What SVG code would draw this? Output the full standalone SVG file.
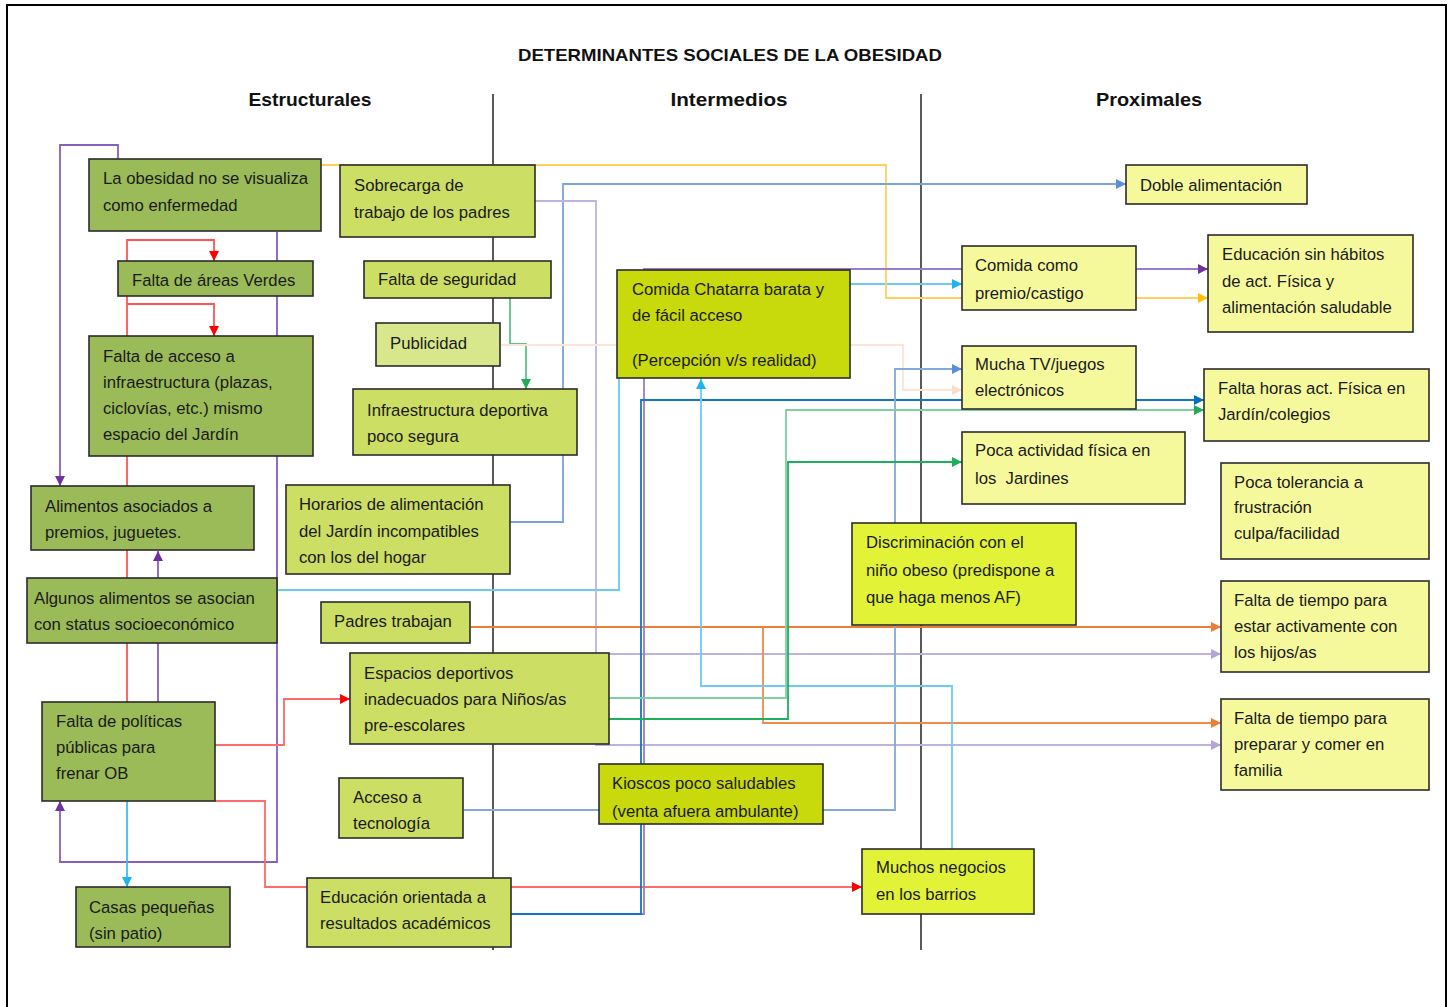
<svg xmlns="http://www.w3.org/2000/svg" width="1452" height="1007" viewBox="0 0 1452 1007">
<style>
.t{font-family:"Liberation Sans",Arial,sans-serif;font-size:16.7px;fill:#1a1a1a}
.h{font-family:"Liberation Sans",Arial,sans-serif;font-weight:bold;fill:#111}
.n rect{stroke:#2b2b2b;stroke-width:1.6}
.dg{fill:#9BBB59}
.lg{fill:#CCDE63}
.pb{fill:#D8E78C}
.yg{fill:#C8D90C}
.by{fill:#E2F337}
.py{fill:#F5F99C}
.c{fill:none;stroke-width:1.8}
</style>
<defs>
<marker id="mPu" markerUnits="userSpaceOnUse" markerWidth="11" markerHeight="11" refX="10" refY="5" orient="auto"><path d="M0,0 L10,5 L0,10 z" fill="#7030A0"/></marker>
<marker id="mRe" markerUnits="userSpaceOnUse" markerWidth="11" markerHeight="11" refX="10" refY="5" orient="auto"><path d="M0,0 L10,5 L0,10 z" fill="#FF0000"/></marker>
<marker id="mCy" markerUnits="userSpaceOnUse" markerWidth="11" markerHeight="11" refX="10" refY="5" orient="auto"><path d="M0,0 L10,5 L0,10 z" fill="#1EB4F0"/></marker>
<marker id="mYe" markerUnits="userSpaceOnUse" markerWidth="11" markerHeight="11" refX="10" refY="5" orient="auto"><path d="M0,0 L10,5 L0,10 z" fill="#FFC000"/></marker>
<marker id="mBl" markerUnits="userSpaceOnUse" markerWidth="11" markerHeight="11" refX="10" refY="5" orient="auto"><path d="M0,0 L10,5 L0,10 z" fill="#5A8ED6"/></marker>
<marker id="mLa" markerUnits="userSpaceOnUse" markerWidth="11" markerHeight="11" refX="10" refY="5" orient="auto"><path d="M0,0 L10,5 L0,10 z" fill="#B4A4D8"/></marker>
<marker id="mOr" markerUnits="userSpaceOnUse" markerWidth="11" markerHeight="11" refX="10" refY="5" orient="auto"><path d="M0,0 L10,5 L0,10 z" fill="#ED7D31"/></marker>
<marker id="mGr" markerUnits="userSpaceOnUse" markerWidth="11" markerHeight="11" refX="10" refY="5" orient="auto"><path d="M0,0 L10,5 L0,10 z" fill="#1FAD5A"/></marker>
<marker id="mPe" markerUnits="userSpaceOnUse" markerWidth="11" markerHeight="11" refX="10" refY="5" orient="auto"><path d="M0,0 L10,5 L0,10 z" fill="#FBDCCB"/></marker>
<marker id="mDb" markerUnits="userSpaceOnUse" markerWidth="11" markerHeight="11" refX="10" refY="5" orient="auto"><path d="M0,0 L10,5 L0,10 z" fill="#0070C0"/></marker>
</defs>

<rect x="0" y="0" width="1452" height="1007" fill="#ffffff"/>
<rect x="7" y="5" width="1439" height="1010" fill="none" stroke="#000" stroke-width="2"/>

<text class="h" x="730" y="61" font-size="17" text-anchor="middle" textLength="424" lengthAdjust="spacingAndGlyphs">DETERMINANTES SOCIALES DE LA OBESIDAD</text>
<text class="h" x="310" y="106" font-size="18.5" text-anchor="middle" textLength="123" lengthAdjust="spacingAndGlyphs">Estructurales</text>
<text class="h" x="729" y="106" font-size="18.5" text-anchor="middle" textLength="117" lengthAdjust="spacingAndGlyphs">Intermedios</text>
<text class="h" x="1149" y="106" font-size="18.5" text-anchor="middle" textLength="106" lengthAdjust="spacingAndGlyphs">Proximales</text>

<g id="dividers" stroke="#000" stroke-width="1.3">
<line x1="493" y1="94" x2="493" y2="950"/>
<line x1="921" y1="94" x2="921" y2="950"/>
</g>

<g id="connectors">
<path class="c" stroke="#8660BE" d="M118,159 V145 H60 V486" marker-end="url(#mPu)"/>
<path class="c" stroke="#8660BE" d="M277,232 V862 H60 V801" marker-end="url(#mPu)"/>
<path class="c" stroke="#8660BE" d="M158,702 V551" marker-end="url(#mPu)"/>
<path class="c" stroke="#FF5555" d="M127,702 V240 H214 V261" marker-end="url(#mRe)"/>
<path class="c" stroke="#FF5555" d="M127,304 H214 V336" marker-end="url(#mRe)"/>
<path class="c" stroke="#FF6A6A" d="M215,745 H284 V699 H350" marker-end="url(#mRe)"/>
<path class="c" stroke="#FF6A6A" d="M215,801 H265 V887 H862" marker-end="url(#mRe)"/>
<path class="c" stroke="#3CBDF2" d="M127,801 V887" marker-end="url(#mCy)"/>
<path class="c" stroke="#6ACBF4" d="M277,590 H619 V284 H962" marker-end="url(#mCy)"/>
<path class="c" stroke="#FFD15C" d="M322,165 H886 V298 H1208" marker-end="url(#mYe)"/>
<path class="c" stroke="#7AA3DC" d="M510,522 H563 V184 H1126" marker-end="url(#mBl)"/>
<path class="c" stroke="#BFB2DE" d="M535,201 H596 V745 H1221" marker-end="url(#mLa)"/>
<path class="c" stroke="#BFB2DE" d="M596,654 H1221" marker-end="url(#mLa)"/>
<path class="c" stroke="#ED7D31" d="M471,627 H1221" marker-end="url(#mOr)"/>
<path class="c" stroke="#EE8A4A" d="M763,627 V723 H1221" marker-end="url(#mOr)"/>
<path class="c" stroke="#5CC38A" d="M510,298 V344 H526 V389" marker-end="url(#mGr)"/>
<path class="c" stroke="#FCE4D6" d="M501,345 H903 V390 H962" marker-end="url(#mPe)"/>
<path class="c" stroke="#9A7CCB" d="M511,914 H644 V269 H1208" marker-end="url(#mPu)"/>
<path class="c" stroke="#1276C4" d="M511,914 H641 V400 H1204" marker-end="url(#mDb)"/>
<path class="c" stroke="#86A9DA" d="M464,810 H895 V369 H962" marker-end="url(#mBl)"/>
<path class="c" stroke="#6ACBF4" d="M952,849 V686 H701 V379" marker-end="url(#mCy)"/>
<path class="c" stroke="#80CFA0" d="M609,698 H786 V410 H1204" marker-end="url(#mGr)"/>
<path class="c" stroke="#1DAF5C" d="M609,719 H788 V462 H962" marker-end="url(#mGr)"/>
</g>

<g id="n1" class="n"><rect class="dg" x="89" y="159" width="232" height="72"/><text class="t" x="103" y="184">La obesidad no se visualiza</text><text class="t" x="103" y="211">como enfermedad</text></g>
<g id="n2" class="n"><rect class="dg" x="118" y="261" width="195" height="35"/><text class="t" x="132" y="286">Falta de áreas Verdes</text></g>
<g id="n3" class="n"><rect class="dg" x="89" y="336" width="224" height="120"/><text class="t" x="103" y="362">Falta de acceso a</text><text class="t" x="103" y="388">infraestructura (plazas,</text><text class="t" x="103" y="414">ciclovías, etc.) mismo</text><text class="t" x="103" y="440">espacio del Jardín</text></g>
<g id="n4" class="n"><rect class="dg" x="31" y="486" width="223" height="64"/><text class="t" x="45" y="512">Alimentos asociados a</text><text class="t" x="45" y="538">premios, juguetes.</text></g>
<g id="n5" class="n"><rect class="dg" x="27" y="578" width="250" height="65"/><text class="t" x="34" y="604">Algunos alimentos se asocian</text><text class="t" x="34" y="630">con status socioeconómico</text></g>
<g id="n6" class="n"><rect class="dg" x="42" y="702" width="173" height="99"/><text class="t" x="56" y="727">Falta de políticas</text><text class="t" x="56" y="753">públicas para</text><text class="t" x="56" y="779">frenar OB</text></g>
<g id="n7" class="n"><rect class="dg" x="76" y="887" width="154" height="60"/><text class="t" x="89" y="913">Casas pequeñas</text><text class="t" x="89" y="939">(sin patio)</text></g>

<g id="n8" class="n"><rect class="lg" x="340" y="165" width="195" height="72"/><text class="t" x="354" y="191">Sobrecarga de</text><text class="t" x="354" y="218">trabajo de los padres</text></g>
<g id="n9" class="n"><rect class="lg" x="364" y="261" width="187" height="37"/><text class="t" x="378" y="285">Falta de seguridad</text></g>
<g id="n10" class="n"><rect class="pb" x="376" y="323" width="124" height="43"/><text class="t" x="390" y="349">Publicidad</text></g>
<g id="n11" class="n"><rect class="lg" x="353" y="389" width="224" height="66"/><text class="t" x="367" y="416">Infraestructura deportiva</text><text class="t" x="367" y="442">poco segura</text></g>
<g id="n12" class="n"><rect class="lg" x="286" y="485" width="224" height="89"/><text class="t" x="299" y="510">Horarios de alimentación</text><text class="t" x="299" y="537">del Jardín incompatibles</text><text class="t" x="299" y="563">con los del hogar</text></g>
<g id="n13" class="n"><rect class="lg" x="321" y="602" width="149" height="41"/><text class="t" x="334" y="627">Padres trabajan</text></g>
<g id="n14" class="n"><rect class="lg" x="350" y="653" width="259" height="91"/><text class="t" x="364" y="679">Espacios deportivos</text><text class="t" x="364" y="705">inadecuados para Niños/as</text><text class="t" x="364" y="731">pre-escolares</text></g>
<g id="n15" class="n"><rect class="lg" x="339" y="778" width="124" height="60"/><text class="t" x="353" y="803">Acceso a</text><text class="t" x="353" y="829">tecnología</text></g>
<g id="n16" class="n"><rect class="lg" x="307" y="878" width="204" height="69"/><text class="t" x="320" y="903">Educación orientada a</text><text class="t" x="320" y="929">resultados académicos</text></g>

<g id="n17" class="n"><rect class="yg" x="617" y="270" width="233" height="108"/><text class="t" x="632" y="295">Comida Chatarra barata y</text><text class="t" x="632" y="321">de fácil acceso</text><text class="t" x="632" y="366">(Percepción v/s realidad)</text></g>
<g id="n18" class="n"><rect class="yg" x="599" y="764" width="224" height="60"/><text class="t" x="612" y="789">Kioscos poco saludables</text><text class="t" x="612" y="817">(venta afuera ambulante)</text></g>
<g id="n19" class="n"><rect class="by" x="852" y="523" width="224" height="102"/><text class="t" x="866" y="548">Discriminación con el</text><text class="t" x="866" y="576">niño obeso (predispone a</text><text class="t" x="866" y="603">que haga menos AF)</text></g>
<g id="n20" class="n"><rect class="by" x="862" y="849" width="172" height="65"/><text class="t" x="876" y="873">Muchos negocios</text><text class="t" x="876" y="900">en los barrios</text></g>

<g id="n21" class="n"><rect class="py" x="1126" y="165" width="181" height="39"/><text class="t" x="1140" y="191">Doble alimentación</text></g>
<g id="n22" class="n"><rect class="py" x="962" y="246" width="174" height="64"/><text class="t" x="975" y="271">Comida como</text><text class="t" x="975" y="299">premio/castigo</text></g>
<g id="n23" class="n"><rect class="py" x="1208" y="235" width="205" height="97"/><text class="t" x="1222" y="260">Educación sin hábitos</text><text class="t" x="1222" y="287">de act. Física y</text><text class="t" x="1222" y="313">alimentación saludable</text></g>
<g id="n24" class="n"><rect class="py" x="962" y="346" width="174" height="63"/><text class="t" x="975" y="370">Mucha TV/juegos</text><text class="t" x="975" y="396">electrónicos</text></g>
<g id="n25" class="n"><rect class="py" x="1204" y="369" width="225" height="72"/><text class="t" x="1218" y="394">Falta horas act. Física en</text><text class="t" x="1218" y="420">Jardín/colegios</text></g>
<g id="n26" class="n"><rect class="py" x="962" y="432" width="223" height="72"/><text class="t" x="975" y="456">Poca actividad física en</text><text class="t" x="975" y="484" xml:space="preserve">los  Jardines</text></g>
<g id="n27" class="n"><rect class="py" x="1221" y="463" width="208" height="96"/><text class="t" x="1234" y="488">Poca tolerancia a</text><text class="t" x="1234" y="513">frustración</text><text class="t" x="1234" y="539">culpa/facilidad</text></g>
<g id="n28" class="n"><rect class="py" x="1221" y="581" width="208" height="91"/><text class="t" x="1234" y="606">Falta de tiempo para</text><text class="t" x="1234" y="632">estar activamente con</text><text class="t" x="1234" y="658">los hijos/as</text></g>
<g id="n29" class="n"><rect class="py" x="1221" y="699" width="208" height="91"/><text class="t" x="1234" y="724">Falta de tiempo para</text><text class="t" x="1234" y="750">preparar y comer en</text><text class="t" x="1234" y="776">familia</text></g>
</svg>
